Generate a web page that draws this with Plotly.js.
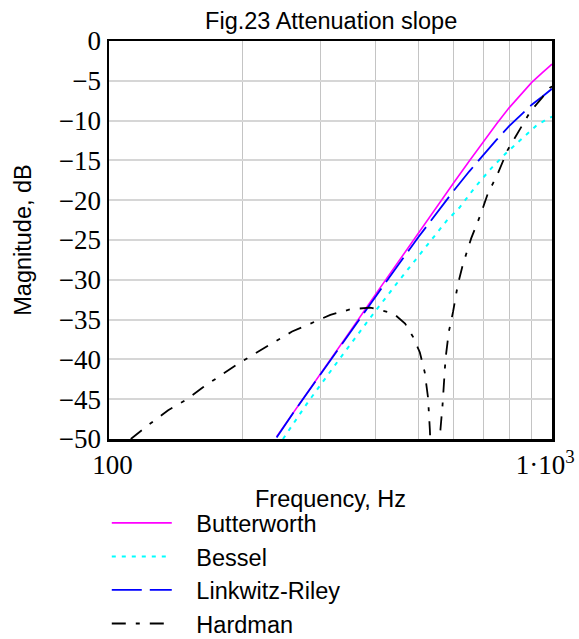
<!DOCTYPE html>
<html>
<head>
<meta charset="utf-8">
<script src="https://cdn.plot.ly/plotly-3.0.1.min.js"></script>
<style>html,body{margin:0;padding:0;background:#fff;}#chart{width:579px;height:639px;}</style>
</head>
<body>
<div id="chart"></div>
<script>
// Data
var butterFreq = [239, 260, 300, 350, 400, 450, 500, 550, 600, 650, 700, 750, 800, 850, 900, 950, 1000];
var butterDb   = [-49.7, -46.8, -41.8, -36.5, -31.8, -27.7, -24.1, -20.8, -17.8, -15.1, -12.6, -10.4, -8.4, -6.7, -5.2, -4.0, -2.9];

var besselFreq = [247, 281, 320, 386, 450, 495, 539, 578, 619, 674, 729, 787, 858, 919, 968, 1000];
var besselDb   = [-50, -45.4, -41.1, -35.0, -30.2, -27.3, -24.7, -22.6, -20.9, -18.2, -16.0, -14.1, -12.2, -10.7, -9.9, -9.5];

var lrFreq = [239, 260, 300, 350, 400, 450, 500, 550, 600, 650, 700, 750, 800, 850, 900, 950, 1000];
var lrDb   = [-49.8, -46.8, -41.9, -36.6, -32.0, -28.1, -24.6, -21.5, -18.8, -16.4, -14.3, -12.4, -10.7, -9.3, -8.0, -7.0, -6.0];

var hardFreq = [112, 123, 136, 150, 163, 179, 195, 216, 235, 259, 285, 316, 351, 389, 438, 466, 486, 503, 516, 525, 530, 540, 552, 560, 566, 570, 575, 585, 598, 613, 629, 657, 691, 716, 754, 794, 836, 895, 951, 988, 1000];
var hardDb   = [-50, -48.2, -46.4, -45.0, -43.5, -42.0, -40.6, -39.1, -37.9, -36.5, -35.5, -34.4, -33.7, -33.5, -34.2, -35.5, -37.2, -39.1, -41.6, -44.8, -48.8, -60, -60, -48.8, -45.8, -42.7, -39.9, -36.5, -34.0, -30.6, -28.1, -24.8, -21.7, -19.2, -16.7, -13.7, -11.6, -8.8, -7.1, -5.9, -5.7];

var yTickVals = [-50, -45, -40, -35, -30, -25, -20, -15, -10, -5, 0];
var yTickText = ["\u221250", "\u221245", "\u221240", "\u221235", "\u221230", "\u221225", "\u221220", "\u221215", "\u221210", "\u22125", "0"];
var xTickVals = [100, 1000];
var xTickText = ["\u00a0100", "1\u00b710<sup>3</sup>\u00a0\u00a0"];
var xGridVals = [200, 300, 400, 500, 600, 700, 800, 900];

var pad = "\u00a0\u00a0\u00a0";
var traces = [
  {x: butterFreq, y: butterDb, name: pad + "Butterworth", mode: "lines",
   line: {color: "#ff00ff", width: 1.6}},
  {x: besselFreq, y: besselDb, name: pad + "Bessel", mode: "lines",
   line: {color: "#00ffff", width: 2, dash: "4px,6px"}},
  {x: lrFreq, y: lrDb, name: pad + "Linkwitz-Riley", mode: "lines",
   line: {color: "#0000ff", width: 1.8, dash: "30px,8px"}},
  {x: hardFreq, y: hardDb, name: pad + "Hardman", mode: "lines",
   line: {color: "#000000", width: 1.8, dash: "14px,10px,4px,10px"}}
];

var sans = "Liberation Sans, Arial, sans-serif";
var serif = "Liberation Serif, Times New Roman, serif";
var layout = {
  width: 579, height: 639,
  margin: {l: 109, r: 27, t: 41, b: 200, autoexpand: false},
  paper_bgcolor: "#ffffff", plot_bgcolor: "#ffffff",
  font: {family: sans, color: "#000"},
  title: {text: "Fig.23 Attenuation slope", x: 0.572, xanchor: "center", y: 0.968, yanchor: "middle",
          font: {size: 23.5, family: sans}},
  showlegend: true,
  legend: {x: -0.005, xanchor: "left", y: -0.156, yanchor: "top", orientation: "v",
           itemwidth: 60, font: {size: 23.5, family: sans}, bgcolor: "rgba(0,0,0,0)"},
  xaxis: {type: "log", range: [2, 3], tickmode: "array", tickvals: xTickVals, ticktext: xTickText,
          showgrid: false, zeroline: false, ticklabeloverflow: "allow",
          minor: {tickmode: "array", tickvals: xGridVals, showgrid: true, gridcolor: "#c4c4c4", gridwidth: 1, ticks: ""},
          showline: true, mirror: true, linecolor: "#000", linewidth: 2.5, ticks: "",
          tickfont: {family: serif, size: 27},
          title: {text: "Frequency, Hz", font: {size: 23.5}, standoff: 12}},
  yaxis: {range: [-50, 0], tickmode: "array", tickvals: yTickVals, ticktext: yTickText,
          showgrid: true, gridcolor: "#d6d6d6", gridwidth: 2, zeroline: false,
          showline: true, mirror: true, linecolor: "#000", linewidth: 2.5, ticks: "",
          tickfont: {family: serif, size: 27},
          title: {text: "Magnitude, dB", font: {size: 23.5}, standoff: 21}}
};

Plotly.newPlot("chart", traces, layout, {displayModeBar: false, staticPlot: true});
</script>
</body>
</html>
